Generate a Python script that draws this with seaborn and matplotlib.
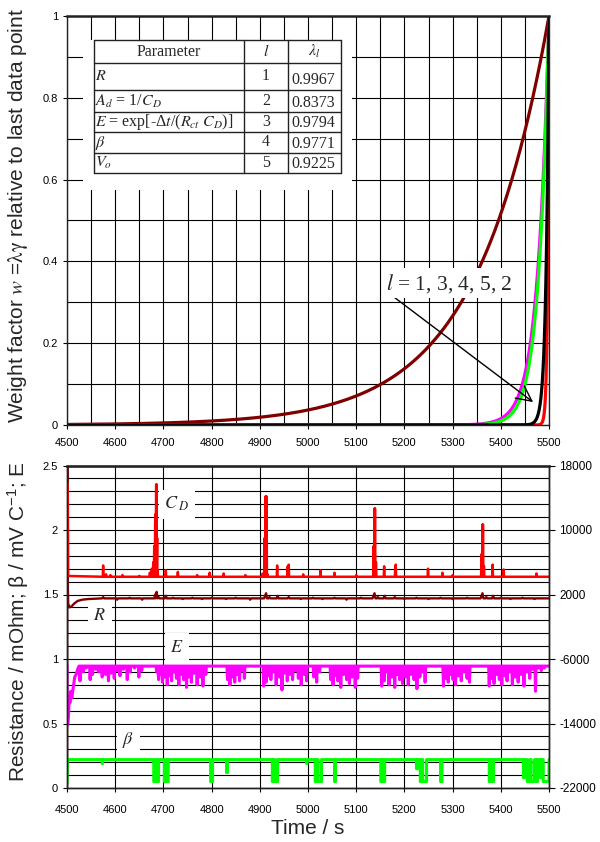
import numpy as np
import pandas as pd
import matplotlib
matplotlib.use("Agg")
import matplotlib.pyplot as plt
import seaborn as sns
from matplotlib.patches import Rectangle
from matplotlib.lines import Line2D
from matplotlib.ticker import MultipleLocator, FuncFormatter

# ---------------- forgetting factors (upper panel) ----------------
param_labels = [r"$R$", r"$A_d$ = 1/$C_D$", r"$E$ = exp[-Δ$t$/($R_{ct}\ C_D$)]",
                r"$\beta$", r"$V_o$"]
param_index = [1, 2, 3, 4, 5]
lambdas = [0.9967, 0.8373, 0.9794, 0.9771, 0.9225]
weight_colors = ["#800000", "#ff0000", "#ff00ff", "#00ff00", "#000000"]
sample_interval = 0.5
t_start, t_end = 4500, 5500

# ---------------- identified parameters (lower panel) ----------------
# double-layer capacitance C_D (right axis): start-up transient, baseline, spikes
cd_head_t = [4500, 4501.5, 4502.5]
cd_head_v = [15800, 15800, 4300]
cd_base = 4200
cd_peak_t = [4575, 4581, 4590, 4615, 4650, 4672, 4676, 4679, 4681, 4683, 4684, 4685,
             4686, 4687, 4688, 4705, 4730, 4770, 4796, 4825, 4870, 4906, 4910, 4912,
             4913, 4914, 4916, 4936, 4958, 4960, 4990, 5026, 5055, 5100, 5136, 5138,
             5139, 5141, 5158, 5181, 5182, 5249, 5279, 5300, 5360, 5362, 5363, 5365,
             5383, 5406, 5474]
cd_peak_v = [5600, 4500, 4400, 4400, 4300, 4700, 5200, 6000, 8000, 11000, 12000, 15650,
             15650, 9000, 5000, 5000, 4800, 4400, 4700, 4600, 4400, 4600, 9000, 14160,
             14160, 14160, 4500, 5600, 5500, 5700, 4500, 5000, 4700, 4400, 8000, 12670,
             12670, 6000, 5500, 5400, 5700, 5200, 4700, 4400, 7000, 10680, 10680, 5500,
             5700, 5100, 4600]

# ohmic resistance R (left axis, mOhm)
r_head_t = [4500, 4500.5, 4501.5, 4502.5, 4505, 4510, 4515, 4522, 4532, 4545]
r_head_v = [0.0, 2.7, 1.62, 1.43, 1.40, 1.41, 1.43, 1.45, 1.46, 1.465]
r_base = 1.47
r_bump_t = [4575, 4604, 4630, 4656, 4683, 4686, 4690, 4705, 4720, 4740, 4760, 4780,
            4800, 4830, 4850, 4880, 4911, 4913, 4920, 4937, 4960, 4985, 5010, 5030,
            5055, 5080, 5110, 5136, 5138, 5145, 5159, 5180, 5200, 5225, 5250, 5275,
            5300, 5330, 5360, 5362, 5370, 5384, 5400, 5420, 5445, 5470, 5490]
r_bump_v = [1.48, 1.46, 1.475, 1.46, 1.50, 1.52, 1.48, 1.49, 1.475, 1.465, 1.475, 1.465,
            1.475, 1.465, 1.475, 1.46, 1.49, 1.51, 1.48, 1.49, 1.48, 1.465, 1.475, 1.465,
            1.475, 1.46, 1.475, 1.49, 1.51, 1.48, 1.49, 1.48, 1.465, 1.475, 1.465, 1.475,
            1.465, 1.475, 1.49, 1.51, 1.48, 1.49, 1.475, 1.465, 1.475, 1.465, 1.47]

# E (left axis)
e_head_t = [4500, 4500.5, 4502, 4503, 4505, 4506, 4508, 4510, 4513, 4516, 4519, 4522, 4525]
e_head_v = [0.95, 0.50, 0.49, 0.56, 0.72, 0.66, 0.75, 0.70, 0.78, 0.86, 0.88, 0.92, 0.945]
e_base = 0.945
e_dip_t = [4527, 4534, 4540, 4548, 4553, 4560, 4566, 4573, 4580, 4586, 4592, 4598, 4604,
           4610, 4617, 4625, 4631, 4640, 4649, 4655,
           4686, 4690, 4694, 4698, 4703, 4708, 4712, 4717, 4722, 4727, 4732, 4737, 4742,
           4748, 4753, 4758, 4764, 4770, 4776, 4782, 4788,
           4833, 4838, 4843, 4848, 4853, 4858, 4863, 4868,
           4908, 4913, 4918, 4923, 4929, 4934, 4940, 4946, 4951, 4957, 4962, 4968, 4974,
           4980, 4986, 4992, 4997,
           5012, 5018, 5024,
           5047, 5052, 5057, 5062, 5068, 5074, 5080, 5086, 5092, 5098, 5103,
           5153, 5158, 5163, 5168, 5174, 5180, 5185, 5190, 5196, 5202, 5208, 5214, 5220,
           5226, 5232, 5238, 5243,
           5281, 5286, 5291, 5296, 5301, 5306, 5312, 5318, 5324, 5330, 5335,
           5376, 5381, 5386, 5392, 5397, 5402, 5408, 5413, 5418, 5424, 5430, 5436, 5442,
           5448, 5454, 5460, 5466, 5472, 5478, 5484, 5490]
e_dip_v = [0.83, 0.90, 0.93, 0.84, 0.88, 0.92, 0.90, 0.86, 0.88, 0.83, 0.89, 0.85, 0.91,
           0.87, 0.92, 0.84, 0.90, 0.93, 0.86, 0.91,
           0.90, 0.84, 0.88, 0.82, 0.86, 0.80, 0.87, 0.83, 0.90, 0.85, 0.80, 0.88, 0.84,
           0.78, 0.86, 0.82, 0.89, 0.80, 0.86, 0.79, 0.88,
           0.84, 0.80, 0.86, 0.82, 0.88, 0.83, 0.91, 0.85,
           0.79, 0.82, 0.87, 0.84, 0.90, 0.80, 0.86, 0.76, 0.89, 0.83, 0.88, 0.84, 0.91,
           0.85, 0.80, 0.88, 0.83,
           0.86, 0.82, 0.90,
           0.84, 0.80, 0.87, 0.83, 0.78, 0.88, 0.84, 0.81, 0.86, 0.78, 0.85,
           0.79, 0.83, 0.90, 0.80, 0.86, 0.78, 0.88, 0.84, 0.81, 0.86, 0.80, 0.88, 0.84,
           0.77, 0.86, 0.90, 0.82,
           0.79, 0.85, 0.82, 0.88, 0.84, 0.80, 0.87, 0.83, 0.90, 0.85, 0.82,
           0.79, 0.85, 0.81, 0.88, 0.84, 0.80, 0.87, 0.83, 0.90, 0.80, 0.86, 0.82, 0.88,
           0.79, 0.90, 0.85, 0.92, 0.75, 0.93, 0.91, 0.93]

# beta (left axis, mV/C): plateau with switching drops
b_head_t = [4500, 4501]
b_head_v = [0.04, 0.22]
b_base = 0.22
b_drop_start = [4573, 4680, 4686, 4702, 4706, 4798, 4831, 4926, 4932, 4997, 5015, 5021,
                5055, 5151, 5156, 5225, 5233, 5238, 5275, 5376, 5382, 5447, 5455, 5463,
                5474, 5482, 5488]
b_drop_end = [4574, 4684, 4690, 4704, 4710, 4802, 4833, 4929, 4937, 4998, 5018, 5028,
              5057, 5154, 5159, 5227, 5236, 5246, 5278, 5379, 5385, 5449, 5460, 5470,
              5476, 5485, 5500]
b_drop_v = [0.19, 0.05, 0.05, 0.05, 0.05, 0.05, 0.12, 0.05, 0.05, 0.19, 0.05, 0.05,
            0.05, 0.05, 0.05, 0.15, 0.05, 0.05, 0.05, 0.05, 0.05, 0.08, 0.05, 0.05,
            0.05, 0.08, 0.05]


def spike_trace(base, head_t, head_v, ev_t, ev_v, t_last, hw):
    """Polyline through a start-up segment followed by narrow excursions from base."""
    ts, vs = list(head_t), list(head_v)
    for i, (tc, v) in enumerate(zip(ev_t, ev_v)):
        if tc - ts[-1] > hw:
            ts.append(tc - hw); vs.append(base)
        ts.append(tc); vs.append(v)
        nxt = ev_t[i + 1] if i + 1 < len(ev_t) else np.inf
        if nxt - tc > 2 * hw:
            ts.append(tc + hw); vs.append(base)
    if ts[-1] < t_last:
        ts.append(t_last); vs.append(base)
    return pd.DataFrame({"t": ts, "v": vs})


def step_trace(base, head_t, head_v, starts, ends, vals, t_last):
    """Polyline of a plateau with rectangular drops."""
    ts, vs = list(head_t), list(head_v)
    for s, e, v in zip(starts, ends, vals):
        ts += [s, s, e, e]
        vs += [base, v, v, base]
    if ts[-1] < t_last:
        ts.append(t_last); vs.append(base)
    return pd.DataFrame({"t": ts, "v": vs})


# ---------------- style ----------------
sns.set_theme(style="white")
plt.rcParams.update({
    "font.family": ["Liberation Sans", "DejaVu Sans"],
    "mathtext.fontset": "stix",
    "axes.unicode_minus": False,
    "axes.edgecolor": "#222222",
    "axes.linewidth": 1.0,
    "xtick.bottom": True, "ytick.left": True,
    "xtick.direction": "out", "ytick.direction": "out",
    "xtick.major.size": 3.0, "ytick.major.size": 3.0,
    "xtick.major.width": 0.8, "ytick.major.width": 0.8,
    "xtick.minor.size": 0, "ytick.minor.size": 0,
    "xtick.color": "black", "ytick.color": "black",
    "xtick.labelsize": 8, "ytick.labelsize": 8,
})
SERIF = ["Liberation Serif", "DejaVu Serif"]
grid_kw = dict(color="black", linewidth=0.8)

fig = plt.figure(figsize=(6.0, 8.42), dpi=100)
ax_w = fig.add_axes([67 / 600, 1 - 425 / 842, 482 / 600, 409 / 842])
ax_b = fig.add_axes([67 / 600, 1 - 788 / 842, 482 / 600, 322.5 / 842])

# ---------------- upper panel: weight factors ----------------
t_w = np.arange(t_start, t_end + sample_interval / 2, sample_interval)
gamma = (t_end - t_w) / sample_interval
df_w = pd.concat([pd.DataFrame({"t": t_w, "w": lam ** gamma, "l": idx})
                  for idx, lam in zip(param_index, lambdas)], ignore_index=True)
sns.lineplot(data=df_w, x="t", y="w", hue="l", hue_order=param_index,
             palette=weight_colors, linewidth=2.3, legend=False, estimator=None,
             sort=False, ax=ax_w)

ax_w.set_xlim(t_start, t_end)
ax_w.set_ylim(0, 1)
ax_w.xaxis.set_major_locator(MultipleLocator(100))
ax_w.xaxis.set_minor_locator(MultipleLocator(50))
ax_w.yaxis.set_major_locator(MultipleLocator(0.2))
ax_w.yaxis.set_minor_locator(MultipleLocator(0.1))
ax_w.yaxis.set_major_formatter(FuncFormatter(lambda v, p: f"{v:g}"))
ax_w.grid(True, which="both", **grid_kw)
ax_w.set_axisbelow(True)
ax_w.tick_params(axis="x", pad=6)
ax_w.tick_params(axis="y", pad=3.5)
ax_w.spines["top"].set_linewidth(1.8)
ax_w.set_xlabel("")
ax_w.set_ylabel(r"Weight factor $w$ =$\mathrm{\lambda\gamma}$ relative to last data point",
                fontsize=15, va="center")
ax_w.yaxis.set_label_coords(-0.1017, 0.513)

# parameter table
def ax_x(px):
    return (px - 67) / 482

def ax_y(py):
    return (425 - py) / 409

ax_w.add_patch(Rectangle((ax_x(83), ax_y(190)), ax_x(352) - ax_x(83), ax_y(39.5) - ax_y(190),
                         transform=ax_w.transAxes, facecolor="white", edgecolor="none",
                         zorder=5))
col_px = [94, 244, 288, 341]
row_px = [40, 63, 90, 112, 132, 153, 172.5]
tbl_kw = dict(color="#222222", linewidth=1.0, transform=ax_w.transAxes, zorder=6)
for py in row_px:
    ax_w.add_line(Line2D([ax_x(col_px[0]), ax_x(col_px[-1])], [ax_y(py), ax_y(py)], **tbl_kw))
for px in col_px:
    ax_w.add_line(Line2D([ax_x(px), ax_x(px)], [ax_y(row_px[0]), ax_y(row_px[-1])], **tbl_kw))

txt_kw = dict(transform=ax_w.transAxes, family=SERIF, fontsize=11.5, zorder=7, va="center")
hdr_y = ax_y((row_px[0] + row_px[1]) / 2)
ax_w.text(ax_x((col_px[0] + col_px[1]) / 2), hdr_y, "Parameter", ha="center", **txt_kw)
ax_w.text(ax_x((col_px[1] + col_px[2]) / 2), hdr_y, r"$l$", ha="center", **txt_kw)
ax_w.text(ax_x((col_px[2] + col_px[3]) / 2), hdr_y, r"$\lambda_l$", ha="center", **txt_kw)
for i, (lab, idx, lam) in enumerate(zip(param_labels, param_index, lambdas)):
    top, bot = row_px[i + 1], row_px[i + 2]
    yc = ax_y((top + bot) / 2)
    ax_w.text(ax_x(col_px[0] + 1), yc, lab, ha="left", **txt_kw)
    ax_w.text(ax_x((col_px[1] + col_px[2]) / 2), yc, f"{idx}", ha="center", **txt_kw)
    ax_w.text(ax_x(col_px[2] + 3), ax_y(bot - (10 if i == 0 else 9)), f"{lam:.4f}",
              ha="left", **txt_kw)

ax_w.annotate(r"$l$ = 1, 3, 4, 5, 2", xy=(5467, 0.056), xytext=(5292, 0.347),
              ha="center", va="center", fontsize=15.5, family=SERIF, zorder=8,
              bbox=dict(boxstyle="square,pad=0.15", fc="white", ec="none"),
              arrowprops=dict(arrowstyle="->,head_length=0.7,head_width=0.35",
                              color="black", lw=1.0, relpos=(0.04, 0.0),
                              shrinkA=0, shrinkB=0))

# ---------------- lower panel: identified parameters ----------------
df_cd = spike_trace(cd_base, cd_head_t, cd_head_v, cd_peak_t, cd_peak_v, t_end, 0.8)
df_r = spike_trace(r_base, r_head_t, r_head_v, r_bump_t, r_bump_v, t_end, 2.0)
df_e = spike_trace(e_base, e_head_t, e_head_v, e_dip_t, e_dip_v, t_end, 1.2)
df_b = step_trace(b_base, b_head_t, b_head_v, b_drop_start, b_drop_end, b_drop_v, t_end)

sns.lineplot(data=df_r, x="t", y="v", color="#800000", linewidth=1.7, estimator=None,
             sort=False, ax=ax_b)
sns.lineplot(data=df_e, x="t", y="v", color="#ff00ff", linewidth=2.2, estimator=None,
             sort=False, ax=ax_b)
sns.lineplot(data=df_b, x="t", y="v", color="#00ff00", linewidth=2.2, estimator=None,
             sort=False, ax=ax_b)

ax_b.set_xlim(t_start, t_end)
ax_b.set_ylim(0, 2.5)
ax_b.xaxis.set_major_locator(MultipleLocator(100))
ax_b.yaxis.set_major_locator(MultipleLocator(0.5))
ax_b.yaxis.set_minor_locator(MultipleLocator(0.1))
ax_b.yaxis.set_major_formatter(FuncFormatter(lambda v, p: f"{v:g}"))
ax_b.grid(True, which="both", **grid_kw)
ax_b.set_axisbelow(True)
ax_b.tick_params(axis="x", pad=9.5)
ax_b.tick_params(axis="y", pad=3.5)
ax_b.spines["top"].set_linewidth(1.8)
ax_b.set_xlabel("Time / s", fontsize=15, va="center")
ax_b.xaxis.set_label_coords(0.5, -0.125)
ax_b.set_ylabel(r"Resistance / mOhm; β / mV C$^{\mathregular{-1}}$; E", fontsize=15,
                va="center")
ax_b.yaxis.set_label_coords(-0.1017, 0.515)

ax_c = ax_b.twinx()
sns.lineplot(data=df_cd, x="t", y="v", color="#ff0000", linewidth=1.8, estimator=None,
             sort=False, ax=ax_c)
ax_c.set_ylim(-22000, 18000)
ax_c.set_yticks(np.arange(-22000, 18001, 8000))
ax_c.set_ylabel("")
ax_c.grid(False)
ax_c.tick_params(axis="y", right=True, length=4, width=0.8, labelsize=8.5, pad=3.5)
ax_c.set_xlim(t_start, t_end)

lab_kw = dict(transform=ax_b.transData, family=SERIF, fontsize=13, ha="center",
              va="center", zorder=10,
              bbox=dict(boxstyle="square,pad=0.3", fc="white", ec="none"))
ax_c.text(4728, 2.20, r"$C_{\;D}$", **lab_kw)
ax_c.text(4568, 1.34, r"$R$", **lab_kw)
ax_c.text(4728, 1.09, r"$E$", **lab_kw)
ax_c.text(4627, 0.37, r"$\beta$", **lab_kw)

fig.savefig("out.png", dpi=100)
